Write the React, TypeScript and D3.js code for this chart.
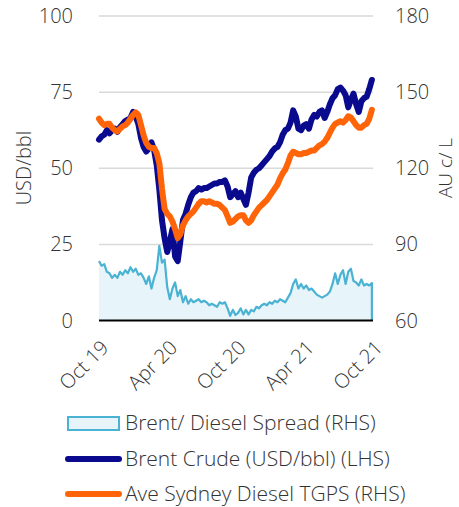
import React from "react";
import * as d3 from "d3";

const startDate = new Date(2019, 9, 1);
const xTickLabels = ["Oct 19", "Apr 20", "Oct 20", "Apr 21", "Oct 21"];
const xTickDates = [new Date(2019, 9, 1), new Date(2020, 3, 1), new Date(2020, 9, 1), new Date(2021, 3, 1), new Date(2021, 9, 1)];
const leftTicks = [0, 25, 50, 75, 100];
const rightTicks = [60, 90, 120, 150, 180];

// weekly observations, LHS USD/bbl
const brentCrude = [
  59.4, 60.5, 61, 62.5, 61.5, 62.5, 63, 62, 63.5, 64.5, 65.5, 66, 66.5, 68.5, 67, 64.5, 60, 57, 55.5, 56.5,
  58.5, 56, 51, 43, 33, 27, 22.5, 26, 30, 21, 19.5, 26, 33, 35, 38, 40.5, 42, 42.5, 43.5, 43,
  43.5, 43.5, 44, 44.5, 45, 45, 45.5, 45.5, 46, 44, 40.5, 41.5, 42.5, 40.5, 42, 40, 38, 42, 47, 48.5,
  49.5, 50, 51, 52, 53, 54, 55.5, 56.5, 57, 58.5, 61, 62.5, 63, 65, 69, 67, 63, 62.5, 64, 64.5,
  63, 66, 67.5, 67, 68.5, 69, 66.5, 68.5, 71, 73, 74, 76, 76.5, 75.5, 74, 70, 72.5, 74.5, 71, 68.5,
  72, 73, 73.5, 76, 79,
];
// weekly observations, RHS AU c/L
const sydneyDiesel = [
  139.5, 138, 137, 137.5, 137.5, 136, 135, 134.5, 135.5, 136.5, 137, 138, 139.5, 141, 142, 141, 137, 133, 130, 128.5,
  128, 128, 126, 122, 112, 104, 102, 101, 99, 96, 92.5, 94, 97.5, 99.5, 101, 102, 103, 104.5, 106, 107,
  107, 106.5, 107, 106.5, 106, 106, 105.5, 104.5, 103.5, 101, 98.5, 99, 100, 101, 101.5, 101.5, 99.5, 98.5, 99.5, 101.5,
  103, 104.5, 105.5, 106.5, 107.5, 109, 110.5, 112, 113.5, 116, 118, 119.5, 122, 125, 126.5, 126, 125.5, 125.5, 126, 126,
  126.5, 127, 127, 128, 129, 129.5, 130.5, 132, 134, 136, 137.5, 138, 138.5, 138, 139, 140.5, 140, 138.5, 137, 136,
  136, 137, 137.5, 139.5, 143,
];
// weekly observations of the spread, drawn on the LHS scale
const dieselSpread = [
  19.5, 18, 18.5, 16, 15.5, 14, 15, 14, 16, 15, 16.5, 15.5, 17.5, 16, 17, 15, 15.5, 14, 12, 14.5,
  10.5, 14, 16.5, 24.5, 19, 20, 11, 7, 10.5, 12.5, 8, 10, 6, 8, 5.5, 7, 6, 6.5, 7, 6,
  6.5, 6, 5, 5.5, 5, 4.5, 6, 5.5, 6, 4, 1.5, 3.5, 1.8, 2.5, 4, 2, 3.5, 2, 3.5, 3,
  4.5, 4, 5, 5.5, 5, 6, 5.5, 6.5, 6, 7, 6.5, 6, 7.5, 9, 12, 13.5, 10.5, 12, 10.5, 11.5,
  10, 10.5, 9.5, 8.5, 8, 7.5, 8, 8.5, 9.5, 12, 15.5, 12, 15, 16.5, 12, 16, 17, 13, 12.5, 11.5,
  13.5, 11.5, 12, 11.5, 12.3, 0,
];

const legendLabels = ["Brent/ Diesel Spread (RHS)", "Brent Crude (USD/bbl) (LHS)", "Ave Sydney Diesel TGPS (RHS)"];

const FONT = "'Segoe UI', 'Open Sans', sans-serif";

export default function App() {
  const W = 459, H = 507;
  const left = 99, right = 373, top = 16, bottom = 320.5;
  const dateAt = (i: number) => d3.timeDay.offset(startDate, 7 * i);
  const x = d3.scaleTime().domain([new Date(2019, 9, 1), new Date(2021, 9, 1)]).range([left, right]);
  const yL = d3.scaleLinear().domain([0, 100]).range([bottom, top]);
  const yR = d3.scaleLinear().domain([60, 180]).range([bottom, top]);

  const spreadPts = dieselSpread.map((v, i) => ({ d: dateAt(Math.min(i, brentCrude.length - 1)), v }));
  const area = d3.area<{ d: Date; v: number }>().x(p => x(p.d)).y0(yL(0)).y1(p => yL(p.v));
  const spreadLine = d3.line<{ d: Date; v: number }>().x(p => x(p.d)).y(p => yL(p.v));
  const brentLine = d3.line<number>().x((_, i) => x(dateAt(i))).y(v => yL(v));
  const dieselLine = d3.line<number>().x((_, i) => x(dateAt(i))).y(v => yR(v));

  const textColor = "#333";
  const fs = 20;
  const legY = [423, 459, 494];

  return (
    <svg width={W} height={H} style={{ position: "absolute", left: 0, top: 0 }} fontFamily={FONT} fontWeight={300}>
      {leftTicks.filter(t => t > 0).map(t => (
        <line key={t} x1={left} x2={right} y1={yL(t)} y2={yL(t)} stroke="#d9d9d9" strokeWidth={1.5} />
      ))}
      <path d={area(spreadPts) || ""} fill="#e7f4f9" />
      <path d={spreadLine(spreadPts) || ""} fill="none" stroke="#4ab2d2" strokeWidth={2.2} strokeLinejoin="round" />
      <path d={brentLine(brentCrude) || ""} fill="none" stroke="#0a0a8f" strokeWidth={6} strokeLinejoin="round" strokeLinecap="round" />
      <path d={dieselLine(sydneyDiesel) || ""} fill="none" stroke="#ff6508" strokeWidth={6} strokeLinejoin="round" strokeLinecap="round" />
      <line x1={left} x2={right} y1={yL(0)} y2={yL(0)} stroke="#000" strokeWidth={2} />

      {leftTicks.map(t => (
        <text key={t} x={73} y={yL(t)} dy="0.35em" textAnchor="end" fontSize={fs} fill={textColor}>{t}</text>
      ))}
      {rightTicks.map(t => (
        <text key={t} x={395} y={yR(t)} dy="0.35em" textAnchor="start" fontSize={fs} fill={textColor}>{t}</text>
      ))}
      {xTickDates.map((d, i) => (
        <text key={i} transform={`translate(${x(d) + 6},${344}) rotate(-45)`} textAnchor="end" dy="0.35em" fontSize={fs} fill={textColor}>
          {xTickLabels[i]}
        </text>
      ))}
      <text transform={`translate(24,168) rotate(-90)`} textAnchor="middle" dy="0.35em" fontSize={fs} fill={textColor}>USD/bbl</text>
      <text transform={`translate(445,168) rotate(-90)`} textAnchor="middle" dy="0.35em" fontSize={19} fill={textColor}>AU c/ L</text>

      <rect x={68} y={417} width={51} height={13} fill="#e7f4f9" stroke="#4ab2d2" strokeWidth={2} />
      <line x1={68} x2={119} y1={legY[1]} y2={legY[1]} stroke="#0a0a8f" strokeWidth={6} strokeLinecap="round" />
      <line x1={68} x2={119} y1={legY[2]} y2={legY[2]} stroke="#ff6508" strokeWidth={6} strokeLinecap="round" />
      {legendLabels.map((l, i) => (
        <text key={l} x={125} y={legY[i]} dy="0.35em" fontSize={21} fill={textColor}>{l}</text>
      ))}
    </svg>
  );
}
